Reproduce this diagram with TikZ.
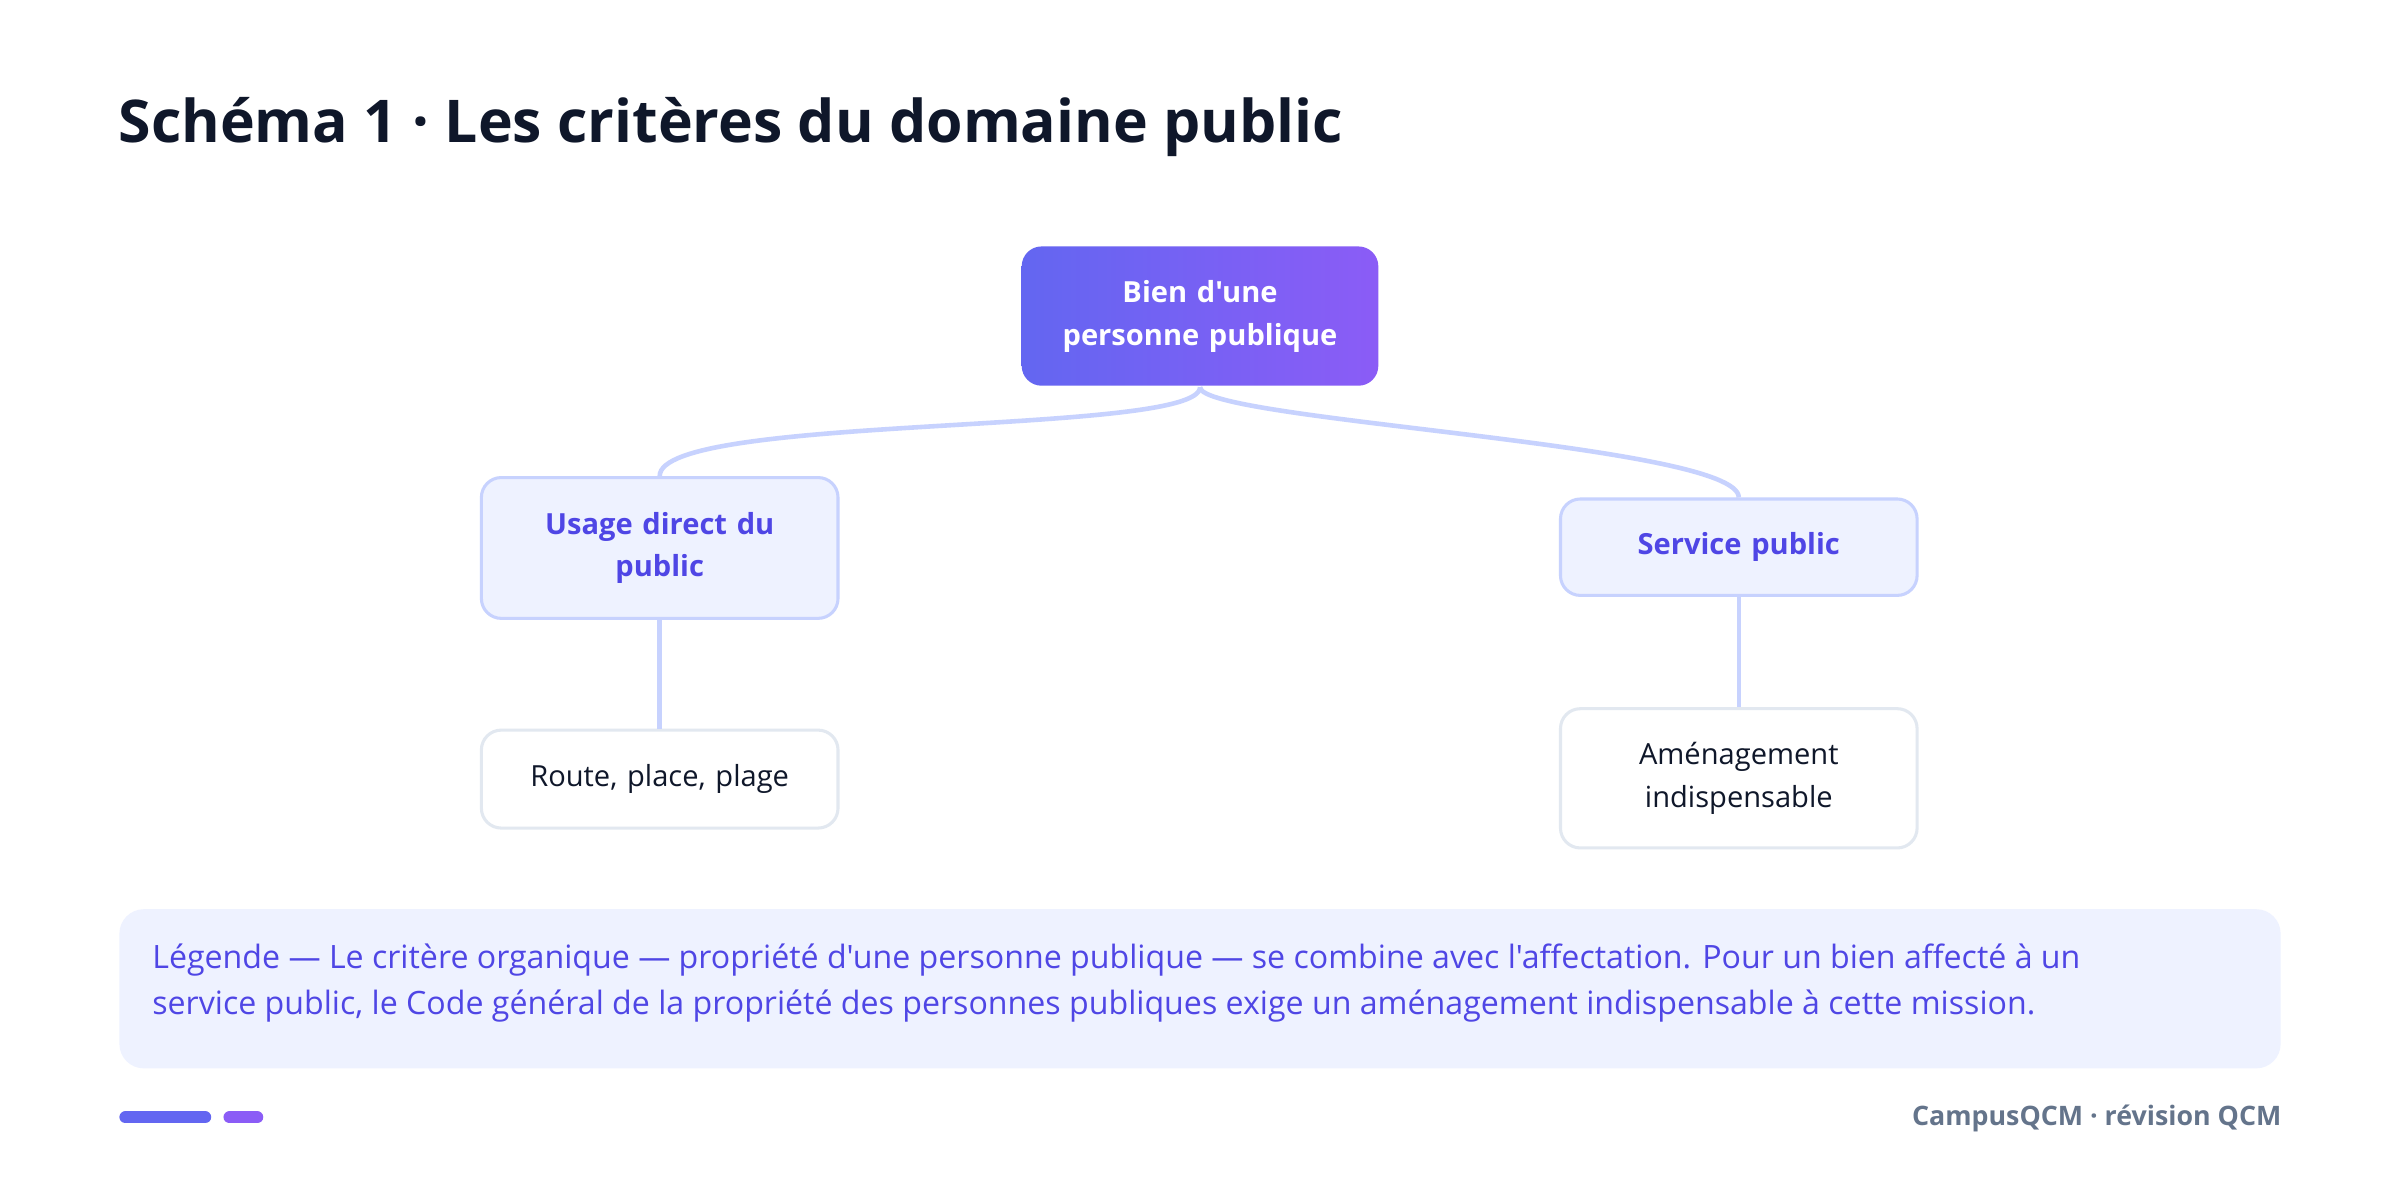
\documentclass[tikz,border=0pt]{standalone}
\usepackage{fontspec}
\setmainfont{Open Sans}[Ligatures=TeXOff]
\usetikzlibrary{shadings}
\definecolor{ind}{HTML}{4F46E5}
\definecolor{linec}{HTML}{C7D2FE}
\definecolor{soft}{HTML}{EEF2FF}
\definecolor{g1}{HTML}{6366F1}
\definecolor{g2}{HTML}{8B5CF6}
\definecolor{titlec}{HTML}{0F172A}
\definecolor{leafb}{HTML}{E2E8F0}
\definecolor{footc}{HTML}{64748B}
\begin{document}
\begin{tikzpicture}[x=1pt,y=-1pt,
 box/.style={rounded corners=13pt,line width=2pt,minimum width=233pt,align=center,text width=210pt,font=\fontsize{19}{28}\selectfont},
 mid/.style={box,fill=soft,draw=linec,text=ind,font=\fontsize{19}{28}\selectfont\bfseries},
 leaf/.style={box,fill=white,draw=leafb,text=titlec},
 conn/.style={draw=linec,line width=3pt}]
\useasboundingbox[fill=white] (0,0) rectangle (1568,770);
\node[anchor=west,text=titlec,font=\fontsize{38.5}{44}\selectfont\bfseries] (title) at (74,83) {Schéma 1 · Les critères du domaine public};
\node[box,draw=none,minimum height=91pt,left color=g1,right color=g2,text=white,font=\fontsize{19}{28}\selectfont\bfseries] (root) at (784,206.5) {Bien d'une\\personne publique};
\node[mid,minimum height=92pt] (l) at (431,358) {Usage direct du\\public};
\node[mid,minimum height=63pt] (r) at (1136,357.5) {Service public};
\node[leaf,minimum height=64pt] (ll) at (431,509) {Route, place, plage};
\node[leaf,minimum height=91pt] (rl) at (1136,508.5) {Aménagement\\indispensable};
\draw[conn] (root.south) .. controls (784,285) and (431,270) .. (l.north);
\draw[conn] (root.south) .. controls (784,275) and (1136,290) .. (r.north);
\draw[conn] (l) -- (ll);
\draw[conn] (r) -- (rl);
\node[fill=soft,rounded corners=16pt,minimum width=1412pt,minimum height=104pt] (leg) at (784,646) {};
\node[anchor=west,text=ind,align=left,font=\fontsize{21}{30}\selectfont] (legt) at (96,642) {Légende — Le critère organique — propriété d'une personne publique — se combine avec l'affectation. Pour un bien affecté à un\\service public, le Code général de la propriété des personnes publiques exige un aménagement indispensable à cette mission.};
\draw[g1,line width=8pt,line cap=round] (82,730) coordinate (b1) -- (134,730) coordinate (b2);
\draw[g2,line width=8pt,line cap=round] (150,730) coordinate (b3) -- (168,730) coordinate (b4);
\node[anchor=east,text=footc,font=\fontsize{17.5}{22}\selectfont\bfseries] (foot) at (1494,731) {CampusQCM · révision QCM};
\end{tikzpicture}
\end{document}
